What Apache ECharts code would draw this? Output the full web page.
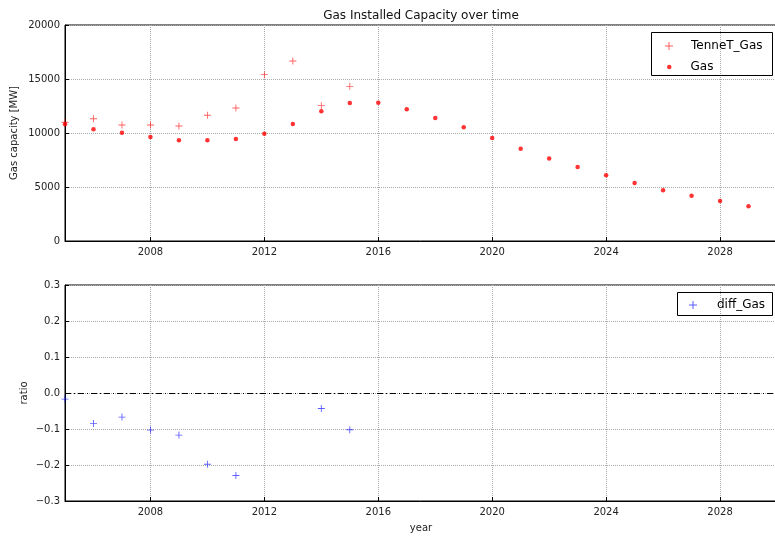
<!DOCTYPE html>
<html>
<head>
<meta charset="utf-8">
<script src="https://cdn.jsdelivr.net/npm/echarts@6/dist/echarts.min.js"></script>
<style>html,body{margin:0;padding:0;background:#fff}#c{width:775px;height:538px}</style>
</head>
<body>
<div id="c"></div>
<script>
// ---- data ----
var years = [2005,2006,2007,2008,2009,2010,2011,2012,2013,2014,2015,2016,2017,2018,2019,2020,2021,2022,2023,2024,2025,2026,2027,2028,2029];
var tennetGas = [10990,11320,10740,10740,10650,11640,12320,15400,16670,12530,14320,null,null,null,null,null,null,null,null,null,null,null,null,null,null];
var gas = [10800,10340,10030,9630,9320,9320,9440,9940,10830,12010,12780,12800,12190,11390,10530,9540,8550,7650,6850,6080,5370,4690,4200,3700,3210];
var diffGas = [-0.017,-0.085,-0.067,-0.103,-0.117,-0.198,-0.229,-0.355,-0.350,-0.043,-0.102,null,null,null,null,null,null,null,null,null,null,null,null,null,null];
var xTicks = [2008,2012,2016,2020,2024,2028];
var capTicks = [0,5000,10000,15000,20000];
var ratioTicks = [-0.3,-0.2,-0.1,0.0,0.1,0.2,0.3];

function pairs(xs, ys){ var out=[]; for(var i=0;i<xs.length;i++){ if(ys[i]!==null) out.push([xs[i], ys[i]]); } return out; }

var FONT = 'DejaVu Sans';
var PLUS = 'path://M3.5,0H4.5V3.5H8V4.5H4.5V8H3.5V4.5H0V3.5H3.5Z';

var chart = echarts.init(document.getElementById('c'), null, {renderer:'canvas'});

function xAxisCfg(grid, withName){
  return {
    type:'value', gridIndex:grid, min:2005, max:2030,
    axisLine:{show:true, onZero:false, lineStyle:{color:'#000', width:1}},
    axisTick:{show:true, inside:true, length:4, customValues:xTicks, lineStyle:{color:'#000'}},
    axisLabel:{customValues:xTicks, color:'#222', fontFamily:FONT, fontSize:10, margin:6, formatter:function(v){return String(v);}},
    splitLine:{show:true, lineStyle:{color:'#aaa', type:'dotted', width:1}},
    name: withName ? 'year' : '',
    nameLocation:'middle', nameGap:22, nameMoveOverlap:false,
    nameTextStyle:{color:'#222', fontFamily:FONT, fontSize:10}
  };
}

var option = {
  animation:false,
  backgroundColor:'#fff',
  title:{
    text:'Gas Installed Capacity over time',
    left:421, top:10, textAlign:'center', padding:0,
    textStyle:{fontFamily:FONT, fontSize:12, fontWeight:'normal', color:'#111'}
  },
  grid:[
    {left:65, top:25, width:712, height:216, show:true, borderColor:'#000', borderWidth:1, backgroundColor:'transparent', containLabel:false, outerBoundsMode:'none'},
    {left:65, top:285, width:712, height:216, show:true, borderColor:'#000', borderWidth:1, backgroundColor:'transparent', containLabel:false, outerBoundsMode:'none'}
  ],
  xAxis:[ xAxisCfg(0,false), xAxisCfg(1,true) ],
  yAxis:[
    {
      type:'value', gridIndex:0, min:0, max:20000, interval:5000,
      axisLine:{show:true, onZero:false, lineStyle:{color:'#000'}},
      axisTick:{show:true, inside:true, length:4, lineStyle:{color:'#000'}},
      axisLabel:{color:'#222', fontFamily:FONT, fontSize:10, margin:5, formatter:function(v){return String(v);}},
      splitLine:{show:true, lineStyle:{color:'#aaa', type:'dotted', width:1}},
      name:'Gas capacity [MW]', nameLocation:'middle', nameRotate:90, nameGap:46, nameMoveOverlap:false,
      nameTextStyle:{color:'#222', fontFamily:FONT, fontSize:10}
    },
    {
      type:'value', gridIndex:1, min:-0.3, max:0.3, interval:0.1,
      axisLine:{show:true, onZero:false, lineStyle:{color:'#000'}},
      axisTick:{show:true, inside:true, length:4, lineStyle:{color:'#000'}},
      axisLabel:{color:'#222', fontFamily:FONT, fontSize:10, margin:5,
        formatter:function(v){ var r=Math.round(v*10)/10; return (r<0?'\u2212':'')+Math.abs(r).toFixed(1); }},
      splitLine:{show:true, lineStyle:{color:'#aaa', type:'dotted', width:1}},
      name:'ratio', nameLocation:'middle', nameRotate:90, nameGap:36, nameMoveOverlap:false,
      nameTextStyle:{color:'#222', fontFamily:FONT, fontSize:10}
    }
  ],
  legend:[
    {data:['TenneT_Gas'], left:665, top:40, orient:'vertical', padding:0, itemWidth:8, itemHeight:8,
     textStyle:{fontFamily:FONT, fontSize:12, color:'#000', padding:[0,0,0,13]}, selectedMode:false},
    {data:['Gas'], left:667, top:61, orient:'vertical', padding:0, itemWidth:4.5, itemHeight:4.5,
     textStyle:{fontFamily:FONT, fontSize:12, color:'#000', padding:[0,0,0,14]}, selectedMode:false},
    {data:['diff_Gas'], left:689, top:299, orient:'vertical', padding:0, itemWidth:8, itemHeight:8,
     textStyle:{fontFamily:FONT, fontSize:12, color:'#000', padding:[0,0,0,15]}, selectedMode:false}
  ],
  graphic:[
    {type:'rect', shape:{x:651.5, y:32.5, width:121, height:43}, style:{fill:'none', stroke:'#000', lineWidth:1}, silent:true, z:100},
    {type:'rect', shape:{x:677.5, y:292.5, width:95, height:23}, style:{fill:'none', stroke:'#000', lineWidth:1}, silent:true, z:100}
  ],
  series:[
    {name:'TenneT_Gas', type:'scatter', xAxisIndex:0, yAxisIndex:0, data:pairs(years,tennetGas),
     symbol:PLUS, symbolSize:7, itemStyle:{color:'rgba(255,0,0,0.8)'}},
    {name:'Gas', type:'scatter', xAxisIndex:0, yAxisIndex:0, data:pairs(years,gas),
     symbol:'circle', symbolSize:4.5, itemStyle:{color:'#ff0000'}},
    {name:'diff_Gas', type:'scatter', xAxisIndex:1, yAxisIndex:1, data:pairs(years,diffGas),
     symbol:PLUS, symbolSize:7, clip:true, itemStyle:{color:'rgba(0,0,255,0.8)'},
     markLine:{silent:true, symbol:['none','none'], label:{show:false},
       lineStyle:{color:'#000', width:1, type:[6,3,1,3]},
       data:[{yAxis:0}]}}
  ]
};
chart.setOption(option);
</script>
</body>
</html>
